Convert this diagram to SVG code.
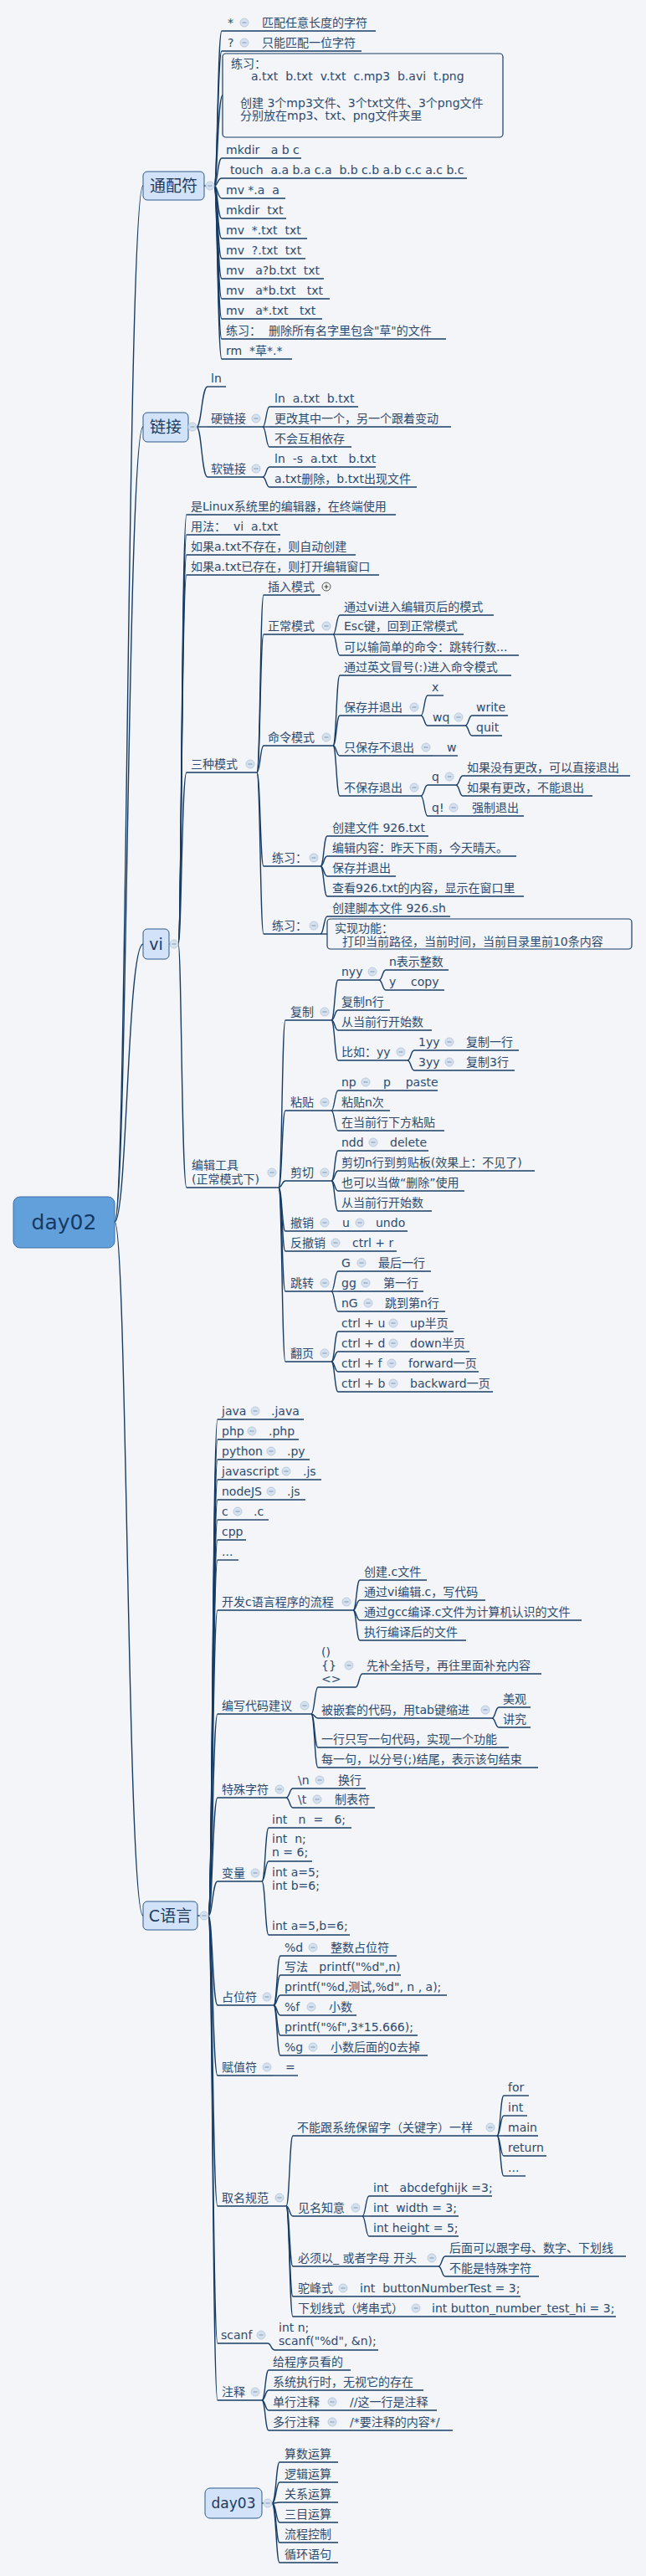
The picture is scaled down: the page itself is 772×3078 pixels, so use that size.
<svg xmlns="http://www.w3.org/2000/svg" width="772" height="3078" viewBox="0 0 772 3078" xml:space="preserve">
<style>
text{font-family:"DejaVu Sans","Noto Sans CJK SC",sans-serif;font-size:14px;fill:#2e4a6e;white-space:pre}
.u{stroke:#173d66;stroke-width:1.4;fill:none}
#connectors path{stroke:#173d66;stroke-width:1.4;fill:none}
.box{fill:none;stroke:#173d66;stroke-width:1.2}
.main rect{fill:#d2e2f8;stroke:#2c5a8a;stroke-width:1}
.main text{font-size:19px;fill:#1c3a60;text-anchor:middle}
</style>
<defs>
<g id="m"><circle r="5" fill="#d5e1ef" stroke="#bccbdd" stroke-width="1"/><path d="M-2.5,0H2.5" stroke="#8ea4bd" stroke-width="1.2"/></g>
<g id="p"><circle r="5" fill="#f4f4f4" stroke="#555" stroke-width="1"/><path d="M-2.5,0H2.5M0,-2.5V2.5" stroke="#444" stroke-width="1.2"/></g>
</defs>
<rect width="772" height="3078" fill="#f3f5f8"/>
<g id="connectors">
<path d="M137,1460C152,1460 152,222 171,222"/>
<path d="M137,1460C152,1460 152,510 171,510"/>
<path d="M137,1460C152,1460 152,1128 171,1128"/>
<path d="M137,1460C152,1460 152,2289 171,2289"/>
<path d="M244,222H256"/>
<path d="M256,222C260,222 260,37 265,37"/>
<path d="M256,222C260,222 260,61 265,61"/>
<path d="M256,222C260,222 260,114 266,114"/>
<path d="M256,222C260,222 260,189 265,189"/>
<path d="M256,222C260,222 260,213 265,213"/>
<path d="M256,222C260,222 260,237 265,237"/>
<path d="M256,222C260,222 260,261 265,261"/>
<path d="M256,222C260,222 260,285 265,285"/>
<path d="M256,222C260,222 260,309 265,309"/>
<path d="M256,222C260,222 260,333 265,333"/>
<path d="M256,222C260,222 260,357 265,357"/>
<path d="M256,222C260,222 260,381 265,381"/>
<path d="M256,222C260,222 260,405 265,405"/>
<path d="M256,222C260,222 260,429 265,429"/>
<path d="M225,510H235"/>
<path d="M235,510C241,510 241,462 248,462"/>
<path d="M235,510H248"/>
<path d="M235,510C241,510 241,570 248,570"/>
<path d="M314,510C318,510 318,486 322,486"/>
<path d="M314,510H322"/>
<path d="M314,510C318,510 318,534 322,534"/>
<path d="M314,570C318,570 318,558 322,558"/>
<path d="M314,570C318,570 318,582 322,582"/>
<path d="M202,1128H213"/>
<path d="M213,1128C217,1128 217,615 223,615"/>
<path d="M213,1128C217,1128 217,639 223,639"/>
<path d="M213,1128C217,1128 217,663 223,663"/>
<path d="M213,1128C217,1128 217,687 223,687"/>
<path d="M213,1128C217,1128 217,923 223,923"/>
<path d="M213,1128C217,1128 217,1419 223,1419"/>
<path d="M307,923C311,923 311,711 315,711"/>
<path d="M307,923C311,923 311,758 315,758"/>
<path d="M307,923C311,923 311,891 315,891"/>
<path d="M307,923C311,923 311,1035 315,1035"/>
<path d="M307,923C311,923 311,1116 315,1116"/>
<path d="M398,758C402,758 402,735 406,735"/>
<path d="M398,758H406"/>
<path d="M398,758C402,758 402,783 406,783"/>
<path d="M398,891C402,891 402,807 406,807"/>
<path d="M398,891C402,891 402,855 406,855"/>
<path d="M398,891C402,891 402,903 406,903"/>
<path d="M398,891C402,891 402,951 406,951"/>
<path d="M503,855C507,855 507,831 511,831"/>
<path d="M503,855C507,855 507,867 511,867"/>
<path d="M556,867C560,867 560,855 564,855"/>
<path d="M556,867C560,867 560,879 564,879"/>
<path d="M503,951C507,951 507,938 511,938"/>
<path d="M503,951C507,951 507,975 511,975"/>
<path d="M545,938C549,938 549,927 553,927"/>
<path d="M545,938C549,938 549,951 553,951"/>
<path d="M383,1035C387,1035 387,999 391,999"/>
<path d="M383,1035C387,1035 387,1023 391,1023"/>
<path d="M383,1035C387,1035 387,1047 391,1047"/>
<path d="M383,1035C387,1035 387,1071 391,1071"/>
<path d="M383,1116C387,1116 387,1095 391,1095"/>
<path d="M383,1116H391"/>
<path d="M333,1419C337,1419 337,1219 341,1219"/>
<path d="M333,1419C337,1419 337,1327 341,1327"/>
<path d="M333,1419C337,1419 337,1411 341,1411"/>
<path d="M333,1419C337,1419 337,1471 341,1471"/>
<path d="M333,1419C337,1419 337,1495 341,1495"/>
<path d="M333,1419C337,1419 337,1543 341,1543"/>
<path d="M333,1419C337,1419 337,1627 341,1627"/>
<path d="M396,1219C400,1219 400,1171 404,1171"/>
<path d="M396,1219C400,1219 400,1207 404,1207"/>
<path d="M396,1219C400,1219 400,1231 404,1231"/>
<path d="M396,1219C400,1219 400,1267 404,1267"/>
<path d="M453,1171C457,1171 457,1159 461,1159"/>
<path d="M453,1171C457,1171 457,1183 461,1183"/>
<path d="M487,1267C491,1267 491,1255 495,1255"/>
<path d="M487,1267C491,1267 491,1279 495,1279"/>
<path d="M396,1327C400,1327 400,1303 404,1303"/>
<path d="M396,1327H404"/>
<path d="M396,1327C400,1327 400,1351 404,1351"/>
<path d="M396,1411C400,1411 400,1375 404,1375"/>
<path d="M396,1411C400,1411 400,1399 404,1399"/>
<path d="M396,1411C400,1411 400,1423 404,1423"/>
<path d="M396,1411C400,1411 400,1447 404,1447"/>
<path d="M396,1543C400,1543 400,1519 404,1519"/>
<path d="M396,1543H404"/>
<path d="M396,1543C400,1543 400,1567 404,1567"/>
<path d="M396,1627C400,1627 400,1591 404,1591"/>
<path d="M396,1627C400,1627 400,1615 404,1615"/>
<path d="M396,1627C400,1627 400,1639 404,1639"/>
<path d="M396,1627C400,1627 400,1663 404,1663"/>
<path d="M236,2289H249"/>
<path d="M249,2289C254,2289 254,1696 260,1696"/>
<path d="M249,2289C254,2289 254,1720 260,1720"/>
<path d="M249,2289C254,2289 254,1744 260,1744"/>
<path d="M249,2289C254,2289 254,1768 260,1768"/>
<path d="M249,2289C254,2289 254,1792 260,1792"/>
<path d="M249,2289C254,2289 254,1816 260,1816"/>
<path d="M249,2289C254,2289 254,1840 260,1840"/>
<path d="M249,2289C254,2289 254,1864 260,1864"/>
<path d="M249,2289C254,2289 254,1924 260,1924"/>
<path d="M249,2289C254,2289 254,2048 260,2048"/>
<path d="M249,2289C254,2289 254,2148 260,2148"/>
<path d="M249,2289C254,2289 254,2248 260,2248"/>
<path d="M249,2289C254,2289 254,2396 260,2396"/>
<path d="M249,2289C254,2289 254,2480 260,2480"/>
<path d="M249,2289C254,2289 254,2636 260,2636"/>
<path d="M249,2289C254,2289 254,2800 260,2800"/>
<path d="M249,2289C254,2289 254,2868 260,2868"/>
<path d="M422,1924C426,1924 426,1888 430,1888"/>
<path d="M422,1924C426,1924 426,1912 430,1912"/>
<path d="M422,1924C426,1924 426,1936 430,1936"/>
<path d="M422,1924C426,1924 426,1960 430,1960"/>
<path d="M372,2048C376,2048 376,2016 380,2016"/>
<path d="M372,2048C376,2048 376,2053 380,2053"/>
<path d="M372,2048C376,2048 376,2088 380,2088"/>
<path d="M372,2048C376,2048 376,2112 380,2112"/>
<path d="M425,2016C429,2016 429,2000 433,2000"/>
<path d="M588,2053C592,2053 592,2040 596,2040"/>
<path d="M588,2053C592,2053 592,2064 596,2064"/>
<path d="M342,2148C346,2148 346,2137 350,2137"/>
<path d="M342,2148C346,2148 346,2160 350,2160"/>
<path d="M313,2248C317,2248 317,2184 321,2184"/>
<path d="M313,2248C317,2248 317,2224 321,2224"/>
<path d="M313,2248C317,2248 317,2312 321,2312"/>
<path d="M327,2396C331,2396 331,2337 335,2337"/>
<path d="M327,2396C331,2396 331,2360 335,2360"/>
<path d="M327,2396C331,2396 331,2384 335,2384"/>
<path d="M327,2396C331,2396 331,2408 335,2408"/>
<path d="M327,2396C331,2396 331,2432 335,2432"/>
<path d="M327,2396C331,2396 331,2456 335,2456"/>
<path d="M342,2636C346,2636 346,2552 350,2552"/>
<path d="M342,2636C346,2636 346,2648 350,2648"/>
<path d="M342,2636C346,2636 346,2708 350,2708"/>
<path d="M342,2636C346,2636 346,2744 350,2744"/>
<path d="M342,2636C346,2636 346,2768 350,2768"/>
<path d="M594,2552C598,2552 598,2504 602,2504"/>
<path d="M594,2552C598,2552 598,2528 602,2528"/>
<path d="M594,2552H602"/>
<path d="M594,2552C598,2552 598,2576 602,2576"/>
<path d="M594,2552C598,2552 598,2600 602,2600"/>
<path d="M433,2648C437,2648 437,2624 441,2624"/>
<path d="M433,2648H441"/>
<path d="M433,2648C437,2648 437,2672 441,2672"/>
<path d="M524,2708C528,2708 528,2696 532,2696"/>
<path d="M524,2708C528,2708 528,2720 532,2720"/>
<path d="M320,2800C324,2800 324,2808 328,2808"/>
<path d="M313,2868C317,2868 317,2832 321,2832"/>
<path d="M313,2868C317,2868 317,2856 321,2856"/>
<path d="M313,2868C317,2868 317,2880 321,2880"/>
<path d="M313,2868C317,2868 317,2904 321,2904"/>
<path d="M313,2991H325"/>
<path d="M325,2991C330,2991 330,2942 334,2942"/>
<path d="M325,2991C330,2991 330,2966 334,2966"/>
<path d="M325,2991C330,2991 330,2990 334,2990"/>
<path d="M325,2991C330,2991 330,3014 334,3014"/>
<path d="M325,2991C330,2991 330,3038 334,3038"/>
<path d="M325,2991C330,2991 330,3062 334,3062"/>
</g>

<g id="day02"><rect x="16" y="1430" width="121" height="61" rx="8" fill="#62a0dc" stroke="#3a6fa8" stroke-width="1"/><text x="76.5" y="1469" text-anchor="middle" style="font-size:25px;fill:#163a63">day02</text></g>

<g id="wildcard" class="main"><rect x="171" y="205" width="73" height="34" rx="5"/><text x="207.5" y="229">通配符</text><use href="#m" x="251" y="222"/></g>
<g id="w1"><text x="272" y="32">*</text><use href="#m" x="292" y="27"/><path class="u" d="M265,37H300"/></g>
<g id="w1a"><text x="313" y="32">匹配任意长度的字符</text><path class="u" d="M300,37H449"/></g>
<g id="w2"><text x="272" y="56">?</text><use href="#m" x="292" y="51"/><path class="u" d="M265,61H300"/></g>
<g id="w2a"><text x="313" y="56">只能匹配一位字符</text><path class="u" d="M300,61H432"/></g>
<g id="w3"><rect class="box" x="266" y="64" width="335" height="100" rx="4"/><text x="276" y="81">练习：</text><text x="300" y="96">a.txt  b.txt  v.txt  c.mp3  b.avi  t.png</text><text x="287" y="128">创建 3个mp3文件、3个txt文件、3个png文件</text><text x="287" y="143">分别放在mp3、txt、png文件夹里</text></g>
<g id="w4"><text x="270" y="184">mkdir   a b c</text><path class="u" d="M265,189H360"/></g>
<g id="w5"><text x="275" y="208">touch  a.a b.a c.a  b.b c.b a.b c.c a.c b.c</text><path class="u" d="M265,213H558"/></g>
<g id="w6"><text x="270" y="232">mv *.a  a</text><path class="u" d="M265,237H341"/></g>
<g id="w7"><text x="270" y="256">mkdir  txt</text><path class="u" d="M265,261H342"/></g>
<g id="w8"><text x="270" y="280">mv  *.txt  txt</text><path class="u" d="M265,285H367"/></g>
<g id="w9"><text x="270" y="304">mv  ?.txt  txt</text><path class="u" d="M265,309H365"/></g>
<g id="w10"><text x="270" y="328">mv   a?b.txt  txt</text><path class="u" d="M265,333H387"/></g>
<g id="w11"><text x="270" y="352">mv   a*b.txt   txt</text><path class="u" d="M265,357H394"/></g>
<g id="w12"><text x="270" y="376">mv   a*.txt   txt</text><path class="u" d="M265,381H385"/></g>
<g id="w13"><text x="270" y="400">练习：  删除所有名字里包含"草"的文件</text><path class="u" d="M265,405H533"/></g>
<g id="w14"><text x="270" y="424">rm  *草*.*</text><path class="u" d="M265,429H349"/></g>

<g id="link" class="main"><rect x="171" y="493" width="54" height="35" rx="5"/><text x="198" y="517">链接</text><use href="#m" x="230" y="510"/></g>
<g id="l1"><text x="252" y="457">ln</text><path class="u" d="M248,462H270"/></g>
<g id="l2"><text x="252" y="505">硬链接</text><use href="#m" x="306" y="500"/><path class="u" d="M248,510H314"/></g>
<g id="l2a"><text x="328" y="481">ln  a.txt  b.txt</text><path class="u" d="M322,486H428"/></g>
<g id="l2b"><text x="328" y="505">更改其中一个，另一个跟着变动</text><path class="u" d="M322,510H539"/></g>
<g id="l2c"><text x="328" y="529">不会互相依存</text><path class="u" d="M322,534H420"/></g>
<g id="l3"><text x="252" y="565">软链接</text><use href="#m" x="306" y="560"/><path class="u" d="M248,570H314"/></g>
<g id="l3a"><text x="328" y="553">ln  -s  a.txt   b.txt</text><path class="u" d="M322,558H449"/></g>
<g id="l3b"><text x="328" y="577">a.txt删除，b.txt出现文件</text><path class="u" d="M322,582H498"/></g>

<g id="vi" class="main"><rect x="171" y="1110" width="31" height="36" rx="5"/><text x="186.5" y="1135">vi</text><use href="#m" x="208" y="1128"/></g>
<g id="v1"><text x="228" y="610">是Linux系统里的编辑器，在终端使用</text><path class="u" d="M223,615H473"/></g>
<g id="v2"><text x="228" y="634">用法：  vi  a.txt</text><path class="u" d="M223,639H335"/></g>
<g id="v3"><text x="228" y="658">如果a.txt不存在，则自动创建</text><path class="u" d="M223,663H425"/></g>
<g id="v4"><text x="228" y="682">如果a.txt已存在，则打开编辑窗口</text><path class="u" d="M223,687H453"/></g>
<g id="v5"><text x="228" y="918">三种模式</text><use href="#m" x="299" y="913"/><path class="u" d="M223,923H307"/></g>
<g id="v5a"><text x="320" y="706">插入模式</text><use href="#p" x="390" y="701"/><path class="u" d="M315,711H383"/></g>
<g id="v5b"><text x="320" y="753">正常模式</text><use href="#m" x="390" y="748"/><path class="u" d="M315,758H398"/></g>
<g id="v5b1"><text x="411" y="730">通过vi进入编辑页后的模式</text><path class="u" d="M406,735H590"/></g>
<g id="v5b2"><text x="411" y="753">Esc键，回到正常模式</text><path class="u" d="M406,758H554"/></g>
<g id="v5b3"><text x="411" y="778">可以输简单的命令：跳转行数...</text><path class="u" d="M406,783H620"/></g>
<g id="v5c"><text x="320" y="886">命令模式</text><use href="#m" x="390" y="881"/><path class="u" d="M315,891H398"/></g>
<g id="v5c1"><text x="411" y="802">通过英文冒号(:)进入命令模式</text><path class="u" d="M406,807H611"/></g>
<g id="v5c2"><text x="411" y="850">保存并退出</text><use href="#m" x="495" y="845"/><path class="u" d="M406,855H503"/></g>
<g id="v5c2a"><text x="516" y="826">x</text><path class="u" d="M511,831H530"/></g>
<g id="v5c2b"><text x="517" y="862">wq</text><use href="#m" x="548" y="857"/><path class="u" d="M511,867H556"/></g>
<g id="v5c2b1"><text x="569" y="850">write</text><path class="u" d="M564,855H607"/></g>
<g id="v5c2b2"><text x="569" y="874">quit</text><path class="u" d="M564,879H600"/></g>
<g id="v5c3"><text x="411" y="898">只保存不退出</text><use href="#m" x="509" y="893"/><path class="u" d="M406,903H517"/></g>
<g id="v5c3a"><text x="534" y="898">w</text><path class="u" d="M517,903H547"/></g>
<g id="v5c4"><text x="411" y="946">不保存退出</text><use href="#m" x="495" y="941"/><path class="u" d="M406,951H503"/></g>
<g id="v5c4a"><text x="516" y="933">q</text><use href="#m" x="537" y="928"/><path class="u" d="M511,938H545"/></g>
<g id="v5c4a1"><text x="558" y="922">如果没有更改，可以直接退出</text><path class="u" d="M553,927H753"/></g>
<g id="v5c4a2"><text x="558" y="946">如果有更改，不能退出</text><path class="u" d="M553,951H708"/></g>
<g id="v5c4b"><text x="516" y="970">q!</text><use href="#m" x="542" y="965"/><path class="u" d="M511,975H550"/></g>
<g id="v5c4b1"><text x="564" y="970">强制退出</text><path class="u" d="M550,975H626"/></g>
<g id="v5d"><text x="325" y="1030">练习：</text><use href="#m" x="375" y="1025"/><path class="u" d="M315,1035H383"/></g>
<g id="v5d1"><text x="397" y="994">创建文件 926.txt</text><path class="u" d="M391,999H512"/></g>
<g id="v5d2"><text x="397" y="1018">编辑内容：昨天下雨，今天晴天。</text><path class="u" d="M391,1023H617"/></g>
<g id="v5d3"><text x="397" y="1042">保存并退出</text><path class="u" d="M391,1047H473"/></g>
<g id="v5d4"><text x="397" y="1066">查看926.txt的内容，显示在窗口里</text><path class="u" d="M391,1071H626"/></g>
<g id="v5e"><text x="325" y="1111">练习：</text><use href="#m" x="375" y="1106"/><path class="u" d="M315,1116H383"/></g>
<g id="v5e1"><text x="397" y="1090">创建脚本文件 926.sh</text><path class="u" d="M391,1095H538"/></g>
<g id="v5e2"><rect class="box" x="391" y="1098" width="364" height="36" rx="4"/><text x="400" y="1114">实现功能：</text><text x="400" y="1130">  打印当前路径，当前时间，当前目录里前10条内容</text></g>
<g id="v6"><text x="229" y="1397">编辑工具</text><text x="229" y="1414">(正常模式下)</text><use href="#m" x="325" y="1401"/><path class="u" d="M223,1419H333"/></g>
<g id="e1"><text x="347" y="1214">复制</text><use href="#m" x="388" y="1209"/><path class="u" d="M341,1219H396"/></g>
<g id="e1a"><text x="408" y="1166">nyy</text><use href="#m" x="445" y="1161"/><path class="u" d="M404,1171H453"/></g>
<g id="e1a1"><text x="465" y="1154">n表示整数</text><path class="u" d="M461,1159H536"/></g>
<g id="e1a2"><text x="465" y="1178">y    copy</text><path class="u" d="M461,1183H531"/></g>
<g id="e1b"><text x="408" y="1202">复制n行</text><path class="u" d="M404,1207H466"/></g>
<g id="e1c"><text x="408" y="1226">从当前行开始数</text><path class="u" d="M404,1231H516"/></g>
<g id="e1d"><text x="408" y="1262">比如：yy</text><use href="#m" x="479" y="1257"/><path class="u" d="M404,1267H487"/></g>
<g id="e1d1"><text x="500" y="1250">1yy</text><use href="#m" x="537" y="1245"/><path class="u" d="M495,1255H545"/></g>
<g id="e1d1a"><text x="557" y="1250">复制一行</text><path class="u" d="M545,1255H620"/></g>
<g id="e1d2"><text x="500" y="1274">3yy</text><use href="#m" x="537" y="1269"/><path class="u" d="M495,1279H545"/></g>
<g id="e1d2a"><text x="557" y="1274">复制3行</text><path class="u" d="M545,1279H615"/></g>
<g id="e2"><text x="347" y="1322">粘贴</text><use href="#m" x="388" y="1317"/><path class="u" d="M341,1327H396"/></g>
<g id="e2a"><text x="408" y="1298">np</text><use href="#m" x="437" y="1293"/><path class="u" d="M404,1303H445"/></g>
<g id="e2a1"><text x="458" y="1298">p    paste</text><path class="u" d="M445,1303H523"/></g>
<g id="e2b"><text x="408" y="1322">粘贴n次</text><path class="u" d="M404,1327H466"/></g>
<g id="e2c"><text x="408" y="1346">在当前行下方粘贴</text><path class="u" d="M404,1351H531"/></g>
<g id="e3"><text x="347" y="1406">剪切</text><use href="#m" x="388" y="1401"/><path class="u" d="M341,1411H396"/></g>
<g id="e3a"><text x="408" y="1370">ndd</text><use href="#m" x="446" y="1365"/><path class="u" d="M404,1375H454"/></g>
<g id="e3a1"><text x="466" y="1370">delete</text><path class="u" d="M454,1375H512"/></g>
<g id="e3b"><text x="408" y="1394">剪切n行到剪贴板(效果上：不见了)</text><path class="u" d="M404,1399H639"/></g>
<g id="e3c"><text x="408" y="1418">也可以当做“删除”使用</text><path class="u" d="M404,1423H555"/></g>
<g id="e3d"><text x="408" y="1442">从当前行开始数</text><path class="u" d="M404,1447H516"/></g>
<g id="e4"><text x="347" y="1466">撤销</text><use href="#m" x="388" y="1461"/><path class="u" d="M341,1471H396"/></g>
<g id="e4a"><text x="409" y="1466">u</text><use href="#m" x="430" y="1461"/><path class="u" d="M396,1471H438"/></g>
<g id="e4b"><text x="449" y="1466">undo</text><path class="u" d="M438,1471H487"/></g>
<g id="e5"><text x="347" y="1490">反撤销</text><use href="#m" x="401" y="1485"/><path class="u" d="M341,1495H409"/></g>
<g id="e5a"><text x="421" y="1490">ctrl + r</text><path class="u" d="M409,1495H474"/></g>
<g id="e6"><text x="347" y="1538">跳转</text><use href="#m" x="388" y="1533"/><path class="u" d="M341,1543H396"/></g>
<g id="e6a"><text x="408" y="1514">G</text><use href="#m" x="432" y="1509"/><path class="u" d="M404,1519H440"/></g>
<g id="e6a1"><text x="452" y="1514">最后一行</text><path class="u" d="M440,1519H515"/></g>
<g id="e6b"><text x="408" y="1538">gg</text><use href="#m" x="437" y="1533"/><path class="u" d="M404,1543H445"/></g>
<g id="e6b1"><text x="458" y="1538">第一行</text><path class="u" d="M445,1543H506"/></g>
<g id="e6c"><text x="408" y="1562">nG</text><use href="#m" x="440" y="1557"/><path class="u" d="M404,1567H448"/></g>
<g id="e6c1"><text x="460" y="1562">跳到第n行</text><path class="u" d="M448,1567H532"/></g>
<g id="e7"><text x="347" y="1622">翻页</text><use href="#m" x="388" y="1617"/><path class="u" d="M341,1627H396"/></g>
<g id="e7a"><text x="408" y="1586">ctrl + u</text><use href="#m" x="470" y="1581"/><path class="u" d="M404,1591H478"/></g>
<g id="e7a1"><text x="490" y="1586">up半页</text><path class="u" d="M478,1591H542"/></g>
<g id="e7b"><text x="408" y="1610">ctrl + d</text><use href="#m" x="470" y="1605"/><path class="u" d="M404,1615H478"/></g>
<g id="e7b1"><text x="490" y="1610">down半页</text><path class="u" d="M478,1615H561"/></g>
<g id="e7c"><text x="408" y="1634">ctrl + f</text><use href="#m" x="468" y="1629"/><path class="u" d="M404,1639H476"/></g>
<g id="e7c1"><text x="488" y="1634">forward一页</text><path class="u" d="M476,1639H572"/></g>
<g id="e7d"><text x="408" y="1658">ctrl + b</text><use href="#m" x="470" y="1653"/><path class="u" d="M404,1663H478"/></g>
<g id="e7d1"><text x="490" y="1658">backward一页</text><path class="u" d="M478,1663H589"/></g>

<g id="clang" class="main"><rect x="171" y="2272" width="65" height="34" rx="5"/><text x="203.5" y="2296">C语言</text><use href="#m" x="244" y="2289"/></g>
<g id="c1"><text x="265" y="1691">java</text><use href="#m" x="305" y="1686"/><path class="u" d="M260,1696H313"/></g>
<g id="c1a"><text x="324" y="1691">.java</text><path class="u" d="M313,1696H363"/></g>
<g id="c2"><text x="265" y="1715">php</text><use href="#m" x="301" y="1710"/><path class="u" d="M260,1720H309"/></g>
<g id="c2a"><text x="321" y="1715">.php</text><path class="u" d="M309,1720H357"/></g>
<g id="c3"><text x="265" y="1739">python</text><use href="#m" x="324" y="1734"/><path class="u" d="M260,1744H332"/></g>
<g id="c3a"><text x="343" y="1739">.py</text><path class="u" d="M332,1744H370"/></g>
<g id="c4"><text x="265" y="1763">javascript</text><use href="#m" x="342" y="1758"/><path class="u" d="M260,1768H350"/></g>
<g id="c4a"><text x="362" y="1763">.js</text><path class="u" d="M350,1768H384"/></g>
<g id="c5"><text x="265" y="1787">nodeJS</text><use href="#m" x="324" y="1782"/><path class="u" d="M260,1792H332"/></g>
<g id="c5a"><text x="343" y="1787">.js</text><path class="u" d="M332,1792H365"/></g>
<g id="c6"><text x="265" y="1811">c</text><use href="#m" x="284" y="1806"/><path class="u" d="M260,1816H292"/></g>
<g id="c6a"><text x="303" y="1811">.c</text><path class="u" d="M292,1816H321"/></g>
<g id="c7"><text x="265" y="1835">cpp</text><path class="u" d="M260,1840H294"/></g>
<g id="c8"><text x="265" y="1859">...</text><path class="u" d="M260,1864H285"/></g>
<g id="c9"><text x="265" y="1919">开发c语言程序的流程</text><use href="#m" x="414" y="1914"/><path class="u" d="M260,1924H422"/></g>
<g id="c9a"><text x="435" y="1883">创建.c文件</text><path class="u" d="M430,1888H510"/></g>
<g id="c9b"><text x="435" y="1907">通过vi编辑.c，写代码</text><path class="u" d="M430,1912H580"/></g>
<g id="c9c"><text x="435" y="1931">通过gcc编译.c文件为计算机认识的文件</text><path class="u" d="M430,1936H695"/></g>
<g id="c9d"><text x="435" y="1955">执行编译后的文件</text><path class="u" d="M430,1960H557"/></g>
<g id="c10"><text x="265" y="2043">编写代码建议</text><use href="#m" x="364" y="2038"/><path class="u" d="M260,2048H372"/></g>
<g id="c10a"><text x="384" y="1979">()</text><text x="384" y="1995">{}</text><text x="384" y="2011">&lt;&gt;</text><use href="#m" x="417" y="1990"/><path class="u" d="M380,2016H425"/></g>
<g id="c10a1"><text x="438" y="1995">先补全括号，再往里面补充内容</text><path class="u" d="M433,2000H647"/></g>
<g id="c10b"><text x="384" y="2048">被嵌套的代码，用tab键缩进</text><use href="#m" x="580" y="2043"/><path class="u" d="M380,2053H588"/></g>
<g id="c10b1"><text x="601" y="2035">美观</text><path class="u" d="M596,2040H634"/></g>
<g id="c10b2"><text x="601" y="2059">讲究</text><path class="u" d="M596,2064H634"/></g>
<g id="c10c"><text x="384" y="2083">一行只写一句代码，实现一个功能</text><path class="u" d="M380,2088H608"/></g>
<g id="c10d"><text x="384" y="2107">每一句，以分号(;)结尾，表示该句结束</text><path class="u" d="M380,2112H643"/></g>
<g id="c11"><text x="265" y="2143">特殊字符</text><use href="#m" x="334" y="2138"/><path class="u" d="M260,2148H342"/></g>
<g id="c11a"><text x="356" y="2132">\n</text><use href="#m" x="382" y="2127"/><path class="u" d="M350,2137H390"/></g>
<g id="c11a1"><text x="404" y="2132">换行</text><path class="u" d="M390,2137H437"/></g>
<g id="c11b"><text x="356" y="2155">\t</text><use href="#m" x="379" y="2150"/><path class="u" d="M350,2160H387"/></g>
<g id="c11b1"><text x="400" y="2155">制表符</text><path class="u" d="M387,2160H448"/></g>
<g id="c12"><text x="265" y="2243">变量</text><use href="#m" x="305" y="2238"/><path class="u" d="M260,2248H313"/></g>
<g id="c12a"><text x="325" y="2179">int   n  =   6;</text><path class="u" d="M321,2184H420"/></g>
<g id="c12b"><text x="325" y="2202">int  n;</text><text x="325" y="2218">n = 6;</text><path class="u" d="M321,2224H373"/></g>
<g id="c12c"><text x="325" y="2242">int a=5;</text><text x="325" y="2258">int b=6;</text><text x="325" y="2306">int a=5,b=6;</text><path class="u" d="M321,2312H418"/></g>
<g id="c13"><text x="265" y="2391">占位符</text><use href="#m" x="319" y="2386"/><path class="u" d="M260,2396H327"/></g>
<g id="c13a"><text x="340" y="2332">%d</text><use href="#m" x="374" y="2327"/><path class="u" d="M335,2337H382"/></g>
<g id="c13a1"><text x="395" y="2332">整数占位符</text><path class="u" d="M382,2337H474"/></g>
<g id="c13b"><text x="340" y="2355">写法   printf("%d",n)</text><path class="u" d="M335,2360H479"/></g>
<g id="c13c"><text x="340" y="2379">printf("%d,测试,%d", n , a);</text><path class="u" d="M335,2384H534"/></g>
<g id="c13d"><text x="340" y="2403">%f</text><use href="#m" x="372" y="2398"/><path class="u" d="M335,2408H380"/></g>
<g id="c13d1"><text x="393" y="2403">小数</text><path class="u" d="M380,2408H426"/></g>
<g id="c13e"><text x="340" y="2427">printf("%f",3*15.666);</text><path class="u" d="M335,2432H499"/></g>
<g id="c13f"><text x="340" y="2451">%g</text><use href="#m" x="374" y="2446"/><path class="u" d="M335,2456H382"/></g>
<g id="c13f1"><text x="395" y="2451">小数后面的0去掉</text><path class="u" d="M382,2456H511"/></g>
<g id="c14"><text x="265" y="2475">赋值符</text><use href="#m" x="319" y="2470"/><path class="u" d="M260,2480H327"/></g>
<g id="c14a"><text x="341" y="2475">=</text><path class="u" d="M327,2480H356"/></g>
<g id="c15"><text x="265" y="2631">取名规范</text><use href="#m" x="334" y="2626"/><path class="u" d="M260,2636H342"/></g>
<g id="c15a"><text x="355" y="2547">不能跟系统保留字（关键字）一样</text><use href="#m" x="586" y="2542"/><path class="u" d="M350,2552H594"/></g>
<g id="c15a1"><text x="607" y="2499">for</text><path class="u" d="M602,2504H632"/></g>
<g id="c15a2"><text x="607" y="2523">int</text><path class="u" d="M602,2528H630"/></g>
<g id="c15a3"><text x="607" y="2547">main</text><path class="u" d="M602,2552H643"/></g>
<g id="c15a4"><text x="607" y="2571">return</text><path class="u" d="M602,2576H653"/></g>
<g id="c15a5"><text x="607" y="2595">...</text><path class="u" d="M602,2600H628"/></g>
<g id="c15b"><text x="356" y="2643">见名知意</text><use href="#m" x="425" y="2638"/><path class="u" d="M350,2648H433"/></g>
<g id="c15b1"><text x="446" y="2619">int   abcdefghijk =3;</text><path class="u" d="M441,2624H588"/></g>
<g id="c15b2"><text x="446" y="2643">int  width = 3;</text><path class="u" d="M441,2648H548"/></g>
<g id="c15b3"><text x="446" y="2667">int height = 5;</text><path class="u" d="M441,2672H548"/></g>
<g id="c15c"><text x="356" y="2703">必须以_ 或者字母 开头</text><use href="#m" x="516" y="2698"/><path class="u" d="M350,2708H524"/></g>
<g id="c15c1"><text x="537" y="2691">后面可以跟字母、数字、下划线</text><path class="u" d="M532,2696H748"/></g>
<g id="c15c2"><text x="537" y="2715">不能是特殊字符</text><path class="u" d="M532,2720H644"/></g>
<g id="c15d"><text x="356" y="2739">驼峰式</text><use href="#m" x="410" y="2734"/><path class="u" d="M350,2744H418"/></g>
<g id="c15d1"><text x="430" y="2739">int  buttonNumberTest = 3;</text><path class="u" d="M418,2744H622"/></g>
<g id="c15e"><text x="356" y="2763">下划线式（烤串式）</text><use href="#m" x="497" y="2758"/><path class="u" d="M350,2768H505"/></g>
<g id="c15e1"><text x="516" y="2763">int button_number_test_hi = 3;</text><path class="u" d="M505,2768H736"/></g>
<g id="c16"><text x="264" y="2795">scanf</text><use href="#m" x="312" y="2790"/><path class="u" d="M260,2800H320"/></g>
<g id="c16a"><text x="333" y="2786">int n;</text><text x="333" y="2802">scanf("%d", &amp;n);</text><path class="u" d="M328,2808H452"/></g>
<g id="c17"><text x="265" y="2863">注释</text><use href="#m" x="305" y="2858"/><path class="u" d="M260,2868H313"/></g>
<g id="c17a"><text x="326" y="2827">给程序员看的</text><path class="u" d="M321,2832H419"/></g>
<g id="c17b"><text x="326" y="2851">系统执行时，无视它的存在</text><path class="u" d="M321,2856H506"/></g>
<g id="c17c"><text x="326" y="2875">单行注释</text><use href="#m" x="397" y="2870"/><path class="u" d="M321,2880H405"/></g>
<g id="c17c1"><text x="418" y="2875">//这一行是注释</text><path class="u" d="M405,2880H522"/></g>
<g id="c17d"><text x="326" y="2899">多行注释</text><use href="#m" x="397" y="2894"/><path class="u" d="M321,2904H405"/></g>
<g id="c17d1"><text x="418" y="2899">/*要注释的内容*/</text><path class="u" d="M405,2904H541"/></g>

<g id="day03" class="main"><rect x="245" y="2973" width="68" height="36" rx="6"/><text x="279" y="2997" style="font-size:17px">day03</text><use href="#m" x="320" y="2991"/></g>
<g id="d1"><text x="340" y="2937">算数运算</text><path class="u" d="M334,2942H404"/></g>
<g id="d2"><text x="340" y="2961">逻辑运算</text><path class="u" d="M334,2966H404"/></g>
<g id="d3"><text x="340" y="2985">关系运算</text><path class="u" d="M334,2990H404"/></g>
<g id="d4"><text x="340" y="3009">三目运算</text><path class="u" d="M334,3014H404"/></g>
<g id="d5"><text x="340" y="3033">流程控制</text><path class="u" d="M334,3038H404"/></g>
<g id="d6"><text x="340" y="3057">循环语句</text><path class="u" d="M334,3062H404"/></g>
</svg>
